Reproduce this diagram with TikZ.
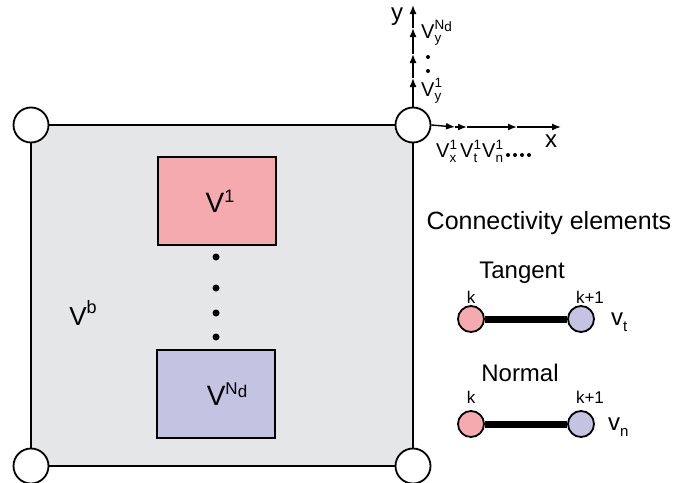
\documentclass[tikz,border=0pt]{standalone}
\usepackage{fontspec}
\setmainfont{Liberation Sans}
\usetikzlibrary{arrows.meta}
\newcommand\fs[1]{\fontsize{#1}{#1}\selectfont}
% small axis labels: V with superscript and subscript
\newcommand\VSS[2]{\fs{20}V\rlap{\raisebox{8.5pt}{\fs{13.5}#1}}\raisebox{-4.5pt}{\fs{13.5}#2}}
\begin{document}
\begin{tikzpicture}[x=1pt,y=-1pt,
  lw/.style={line width=1.8pt},
  corner/.style={circle,draw,lw,fill=white,minimum size=35pt,inner sep=0pt},
  vbox/.style={rectangle,draw,lw,minimum width=118pt,minimum height=88pt,inner sep=0pt},
  dotc/.style={circle,fill=black,minimum size=7pt,inner sep=0pt},
  sdot/.style={circle,fill=black,minimum size=4pt,inner sep=0pt},
  endc/.style={circle,draw,lw,minimum size=26pt,inner sep=0pt},
  lbl/.style={inner sep=0pt},
  axis/.style={line width=1.4pt,-{Latex[length=9pt,width=7pt]}},
  bar/.style={line width=7pt}]
\definecolor{bggray}{RGB}{229,230,231}
\definecolor{pinkc}{RGB}{244,170,175}
\definecolor{bluec}{RGB}{197,195,226}
\useasboundingbox (0,0) rectangle (674,482);

% main domain
\fill[bggray] (31,125) rectangle (413,466);
\draw[lw] (31,125) rectangle (413,466);
\node[corner] (TL) at (31,125) {};
\node[corner] (TR) at (413,125) {};
\node[corner] (BL) at (31,466) {};
\node[corner] (BR) at (413,466) {};

% subdomains
\node[vbox,fill=pinkc] (V1) at (217,201) {};
\node[lbl] (V1t) at (220,201) {\fs{28}V\raisebox{10pt}{\fs{18}1}};
\node[dotc] (d1) at (216,257) {};
\node[dotc] (d2) at (216,288) {};
\node[dotc] (d3) at (216,313) {};
\node[dotc] (d4) at (216,337) {};
\node[vbox,fill=bluec] (VN) at (216,394) {};
\node[lbl] (VNt) at (227,394) {\fs{28}V\raisebox{11pt}{\fs{17}N\raisebox{-3pt}{d}}};
\node[lbl] (Vb) at (83,313) {\fs{26}V\raisebox{12pt}{\fs{18}b}};

% y axis
\coordinate (ya1) at (413,78);
\coordinate (ya2) at (413,54);
\coordinate (ya3) at (413,28);
\coordinate (yend) at (413,5);
\draw[axis] (TR.north) -- (ya1);
\draw[axis] (ya1) -- (ya2);
\draw[axis] (ya2) -- (ya3);
\draw[axis] (ya3) -- (yend);
\node[lbl] (ylab) at (397,17) {\fs{24}y};
\node[lbl,anchor=west] (vyN) at (421,33) {\VSS{N\raisebox{-2pt}{d}}{y}};
\node[sdot] (yd1) at (428,57) {};
\node[sdot] (yd2) at (428,71) {};
\node[lbl,anchor=west] (vy1) at (421,91) {\VSS{1}{y}};

% x axis
\coordinate (xa1) at (455,127);
\coordinate (xa2) at (467,127);
\coordinate (xa3) at (517,127);
\coordinate (xend) at (561,127);
\draw[axis] (TR.east) -- (xa1);
\draw[axis] (xa1) -- (xa2);
\draw[axis] (xa2) -- (xa3);
\draw[axis] (xa3) -- (xend);
\node[lbl] (xlab) at (551,141) {\fs{24}x};
\node[lbl,anchor=west] (vx1) at (436,151) {\VSS{1}{x}};
\node[lbl,anchor=west] (vt1) at (460,151) {\VSS{1}{t}};
\node[lbl,anchor=west] (vn1) at (482,151) {\VSS{1}{n}};
\node[sdot] (hd1) at (508,155) {};
\node[sdot] (hd2) at (515,155) {};
\node[sdot] (hd3) at (522,155) {};
\node[sdot] (hd4) at (529,155) {};

% legend
\node[lbl] (conn) at (549,223) {\fs{25}Connectivity elements};
\node[lbl] (tang) at (522,273) {\fs{24}Tangent};
\node[endc,fill=pinkc] (tk) at (471,319) {};
\node[endc,fill=bluec] (tk1) at (581,319) {};
\draw[bar] (tk) -- (tk1);
\node[lbl] (tkl) at (471,297) {\fs{17}k};
\node[lbl] (tk1l) at (590,297) {\fs{17}k+1};
\node[lbl,anchor=west] (vt) at (611,322) {\fs{24}v\raisebox{-6pt}{\fs{15}t}};

\node[lbl] (norm) at (520,373) {\fs{24}Normal};
\node[endc,fill=pinkc] (nk) at (471,424) {};
\node[endc,fill=bluec] (nk1) at (581,424) {};
\draw[bar] (nk) -- (nk1);
\node[lbl] (nkl) at (471,397) {\fs{17}k};
\node[lbl] (nk1l) at (590,397) {\fs{17}k+1};
\node[lbl,anchor=west] (vn) at (608,427) {\fs{24}v\raisebox{-6pt}{\fs{15}n}};
\end{tikzpicture}
\end{document}
